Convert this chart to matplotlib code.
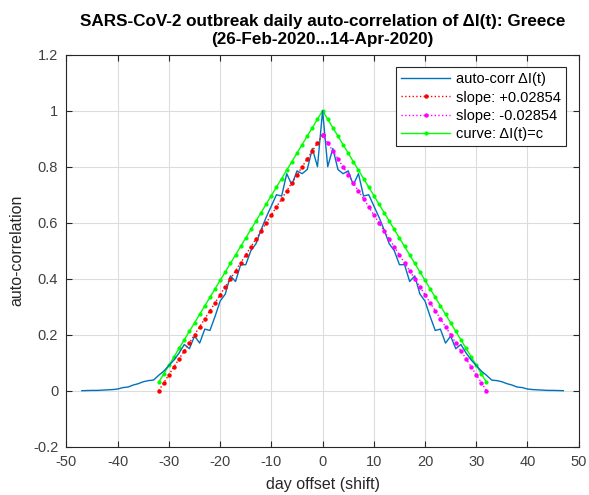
import matplotlib
matplotlib.use("Agg")
import matplotlib.pyplot as plt
import numpy as np

plt.rcParams["font.family"] = ["Liberation Sans", "DejaVu Sans"]
plt.rcParams["axes.unicode_minus"] = False

# one-sided auto-correlation values, lags 0..47 (curve is symmetric)
autocorr_half = [
    1.00, 0.80, 0.865, 0.79, 0.775, 0.785, 0.735, 0.775, 0.695, 0.70,
    0.66, 0.62, 0.575, 0.525, 0.50, 0.45, 0.45, 0.39, 0.41, 0.345,
    0.32, 0.265, 0.215, 0.22, 0.17, 0.195, 0.15, 0.165, 0.135, 0.11,
    0.09, 0.07, 0.055, 0.038, 0.036, 0.032, 0.025, 0.02, 0.013, 0.011,
    0.006, 0.004, 0.003, 0.002, 0.001, 0.001, 0.0005, 0.0,
]
slope = 0.02854
n_const = 33  # length of the constant-increment reference series

ac_half = np.array(autocorr_half)
lags = np.arange(-(len(ac_half) - 1), len(ac_half))
ac = np.concatenate([ac_half[:0:-1], ac_half])

up_x = np.arange(-(n_const - 1), 1)
down_x = np.arange(0, n_const)
const_x = np.arange(-(n_const - 1), n_const)
const_y = (n_const - np.abs(const_x)) / n_const

fig = plt.figure(figsize=(5.89, 4.95), dpi=100)
ax = fig.add_axes([0.1129, 0.0976, 0.8696, 0.7919])

ax.plot(lags, ac, color="#0072BD", linewidth=1.0, label="auto-corr \u0394I(t)", zorder=3)
ax.plot(up_x, slope * (up_x + n_const - 1), color="red", linestyle=":", linewidth=1.0,
        marker="o", markersize=3.2, markeredgewidth=0, label="slope: +%.5f" % slope, zorder=4)
ax.plot(down_x, slope * (n_const - 1 - down_x), color="magenta", linestyle=":", linewidth=1.0,
        marker="o", markersize=3.2, markeredgewidth=0, label="slope: -%.5f" % slope, zorder=4)
ax.plot(const_x, const_y, color="#00FF00", linewidth=1.0, marker="o", markersize=3,
        markeredgewidth=0, label="curve: \u0394I(t)=c", zorder=2)

ax.set_xlim(-50, 50)
ax.set_ylim(-0.2, 1.2)
ax.set_xticks(np.arange(-50, 51, 10))
ax.set_yticks(np.arange(-0.2, 1.21, 0.2))
ax.set_yticklabels(["-0.2", "0", "0.2", "0.4", "0.6", "0.8", "1", "1.2"])
ax.grid(True, color="#dcdcdc", linewidth=0.8)
ax.set_axisbelow(True)
ax.tick_params(direction="in", top=True, right=True, labelsize=10.5, colors="#262626",
               length=4, pad=6)
ax.tick_params(axis="x", labelcolor="#404040")
ax.tick_params(axis="y", labelcolor="#404040")
for spine in ax.spines.values():
    spine.set_color("#262626")
    spine.set_linewidth(0.8)

ax.set_xlabel("day offset (shift)", fontsize=11.5, color="#262626", labelpad=6)
ax.set_ylabel("auto-correlation", fontsize=11.5, color="#262626", labelpad=6)
ax.set_title("SARS-CoV-2 outbreak daily auto-correlation of \u0394I(t): Greece\n(26-Feb-2020...14-Apr-2020)",
             fontsize=12.3, fontweight="bold", linespacing=1.25, pad=8)

leg = ax.legend(loc="upper right", fontsize=10.5, fancybox=False, framealpha=1,
                edgecolor="#262626", handlelength=3.4, borderaxespad=0.85,
                labelspacing=0.3, handletextpad=0.4, borderpad=0.35)
leg.get_frame().set_linewidth(0.8)

fig.savefig("out.png", dpi=100)
